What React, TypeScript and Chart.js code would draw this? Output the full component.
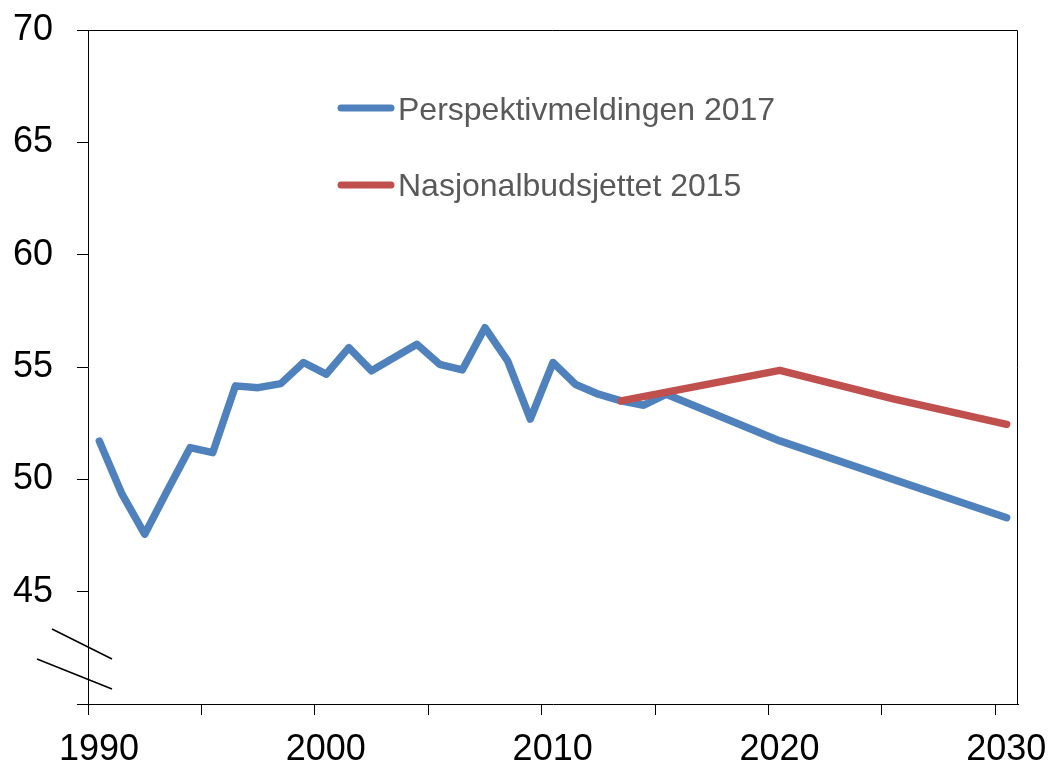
import React, { useEffect, useRef } from "react";
import { Chart, registerables } from "chart.js";

Chart.register(...registerables);

// ---- Data ----
const seriesLabels = ["Perspektivmeldingen 2017", "Nasjonalbudsjettet 2015"];
const seriesColors = ["#4F81BD", "#C0504D"];

const blueYears = [
  1990, 1991, 1992, 1993, 1994, 1995, 1996, 1997, 1998, 1999,
  2000, 2001, 2002, 2003, 2004, 2005, 2006, 2007, 2008, 2009,
  2010, 2011, 2012, 2013, 2014, 2015, 2020, 2025, 2030,
];
const blueValues = [
  51.7, 49.34, 47.56, 49.5, 51.41, 51.19, 54.16, 54.08, 54.26, 55.2,
  54.68, 55.86, 54.83, 55.42, 56.01, 55.12, 54.87, 56.75, 55.27, 52.68,
  55.2, 54.22, 53.79, 53.49, 53.3, 53.79, 51.71, 50.0, 48.29,
];

const redYears = [2013, 2020, 2025, 2030];
const redValues = [53.49, 54.85, 53.58, 52.45];

const yTickValues = [40, 45, 50, 55, 60, 65, 70];
const xTickYears = [1990, 1995, 2000, 2005, 2010, 2015, 2020, 2025, 2030];
const xLabelYears = [1990, 2000, 2010, 2020, 2030];

const FONT = "'Liberation Sans', Arial, Helvetica, sans-serif";

const decorPlugin = {
  id: "decor",
  afterDraw(chart: any) {
    const { ctx, chartArea } = chart;
    const { left, top, right, bottom } = chartArea;
    ctx.save();
    // top & right border
    ctx.strokeStyle = "#000";
    ctx.lineWidth = 1;
    ctx.beginPath();
    ctx.moveTo(left, top + 0.5);
    ctx.lineTo(right - 0.5, top + 0.5);
    ctx.lineTo(right - 0.5, bottom);
    ctx.stroke();
    // axis break marks
    ctx.lineWidth = 1.5;
    ctx.beginPath();
    ctx.moveTo(left - 36, bottom - 75);
    ctx.lineTo(left + 24, bottom - 45);
    ctx.moveTo(left - 51, bottom - 45);
    ctx.lineTo(left + 24, bottom - 15);
    ctx.stroke();
    // legend
    const rows = [
      { y: 108, base: 120 },
      { y: 185, base: 196 },
    ];
    rows.forEach((r, i) => {
      ctx.strokeStyle = seriesColors[i];
      ctx.lineWidth = 7;
      ctx.lineCap = "round";
      ctx.beginPath();
      ctx.moveTo(341, r.y);
      ctx.lineTo(391, r.y);
      ctx.stroke();
      ctx.fillStyle = "#595959";
      ctx.font = `32px ${FONT}`;
      ctx.textAlign = "left";
      ctx.textBaseline = "alphabetic";
      ctx.fillText(seriesLabels[i], 398, r.base);
    });
    ctx.restore();
  },
};

export default function App() {
  const ref = useRef<HTMLCanvasElement | null>(null);

  useEffect(() => {
    document.body.style.margin = "0";
    const canvas = ref.current;
    if (!canvas) return;
    const chart = new Chart(canvas, {
      type: "line",
      data: {
        datasets: [
          {
            label: seriesLabels[0],
            data: blueYears.map((x, i) => ({ x, y: blueValues[i] })),
            borderColor: seriesColors[0],
            backgroundColor: seriesColors[0],
            borderWidth: 7.5,
            borderCapStyle: "round",
            borderJoinStyle: "round",
            pointRadius: 0,
            tension: 0,
            order: 1,
          },
          {
            label: seriesLabels[1],
            data: redYears.map((x, i) => ({ x, y: redValues[i] })),
            borderColor: seriesColors[1],
            backgroundColor: seriesColors[1],
            borderWidth: 7.5,
            borderCapStyle: "round",
            borderJoinStyle: "round",
            pointRadius: 0,
            tension: 0,
            order: 0,
          },
        ],
      },
      options: {
        responsive: false,
        animation: false,
        events: [],
        layout: { padding: { top: 30, right: 37, left: 0, bottom: 0 } },
        plugins: {
          legend: { display: false },
          tooltip: { enabled: false },
          title: { display: false },
        },
        scales: {
          x: {
            type: "linear",
            min: 1989.5,
            max: 2030.5,
            afterBuildTicks: (axis: any) => {
              axis.ticks = xTickYears.map((v) => ({ value: v - 0.5 }));
            },
            afterFit: (axis: any) => {
              axis.height = 60;
              axis.paddingLeft = 0;
              axis.paddingRight = 0;
            },
            grid: {
              display: true,
              drawOnChartArea: false,
              drawTicks: true,
              tickLength: 11,
              color: "#000",
              lineWidth: 1,
            },
            border: { display: true, color: "#000", width: 1 },
            ticks: {
              autoSkip: false,
              maxRotation: 0,
              minRotation: 0,
              padding: 13,
              labelOffset: 11,
              color: "#000",
              font: { family: FONT, size: 36 },
              callback: (v: any) => {
                const yr = Math.round(Number(v) + 0.5);
                return xLabelYears.includes(yr) ? String(yr) : "";
              },
            },
          },
          y: {
            type: "linear",
            min: 40,
            max: 70,
            afterBuildTicks: (axis: any) => {
              axis.ticks = yTickValues.map((v) => ({ value: v }));
            },
            afterFit: (axis: any) => {
              axis.width = 88;
              axis.paddingTop = 0;
              axis.paddingBottom = 0;
            },
            grid: {
              display: true,
              drawOnChartArea: false,
              drawTicks: true,
              tickLength: 11,
              color: "#000",
              lineWidth: 1,
            },
            border: { display: true, color: "#000", width: 1 },
            ticks: {
              padding: 24,
              color: "#000",
              font: { family: FONT, size: 36 },
              callback: (v: any) => (Number(v) === 40 ? "" : String(v)),
            },
          },
        },
      },
      plugins: [decorPlugin],
    } as any);
    return () => chart.destroy();
  }, []);

  return (
    <div style={{ position: "fixed", left: 0, top: 0, width: 1055, height: 764, background: "#fff" }}>
      <canvas ref={ref} width={1055} height={764} style={{ width: 1055, height: 764, display: "block" }} />
    </div>
  );
}
